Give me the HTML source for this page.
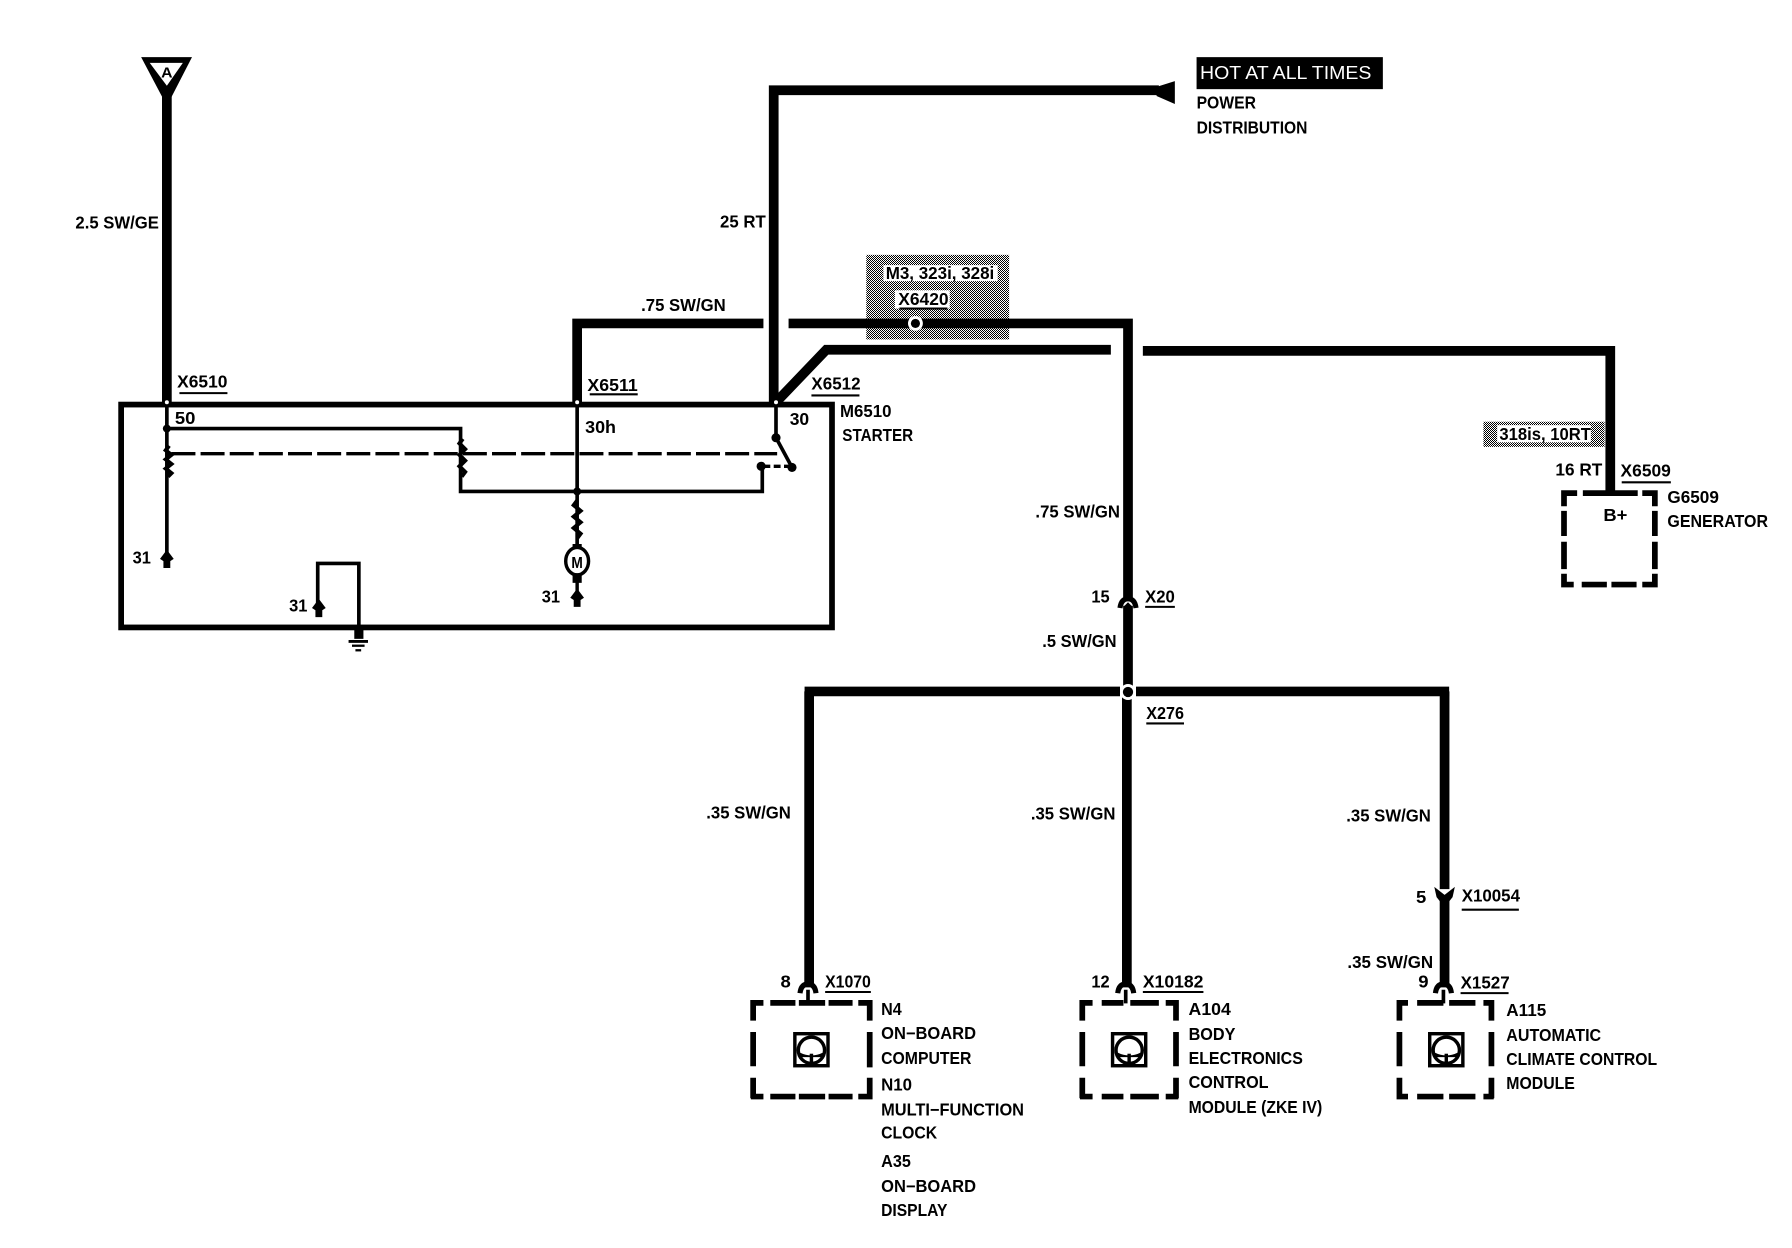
<!DOCTYPE html>
<html><head><meta charset="utf-8"><style>
html,body{margin:0;padding:0;background:#fff}
svg{display:block}
text{font-family:"Liberation Sans",sans-serif;font-weight:bold;font-size:15px;fill:#000}
.n{fill:none;stroke:#000}
.w{fill:none;stroke:#000;stroke-width:8.5}
.t{fill:none;stroke:#000;stroke-width:3.2}
.u{stroke:#000;stroke-width:1.8}
.d{fill:none;stroke:#000;stroke-width:5}
</style></head><body>
<svg width="1792" height="1248" viewBox="0 0 1568 1092" xmlns="http://www.w3.org/2000/svg">
<defs>
<pattern id="g" width="1.75" height="1.75" patternUnits="userSpaceOnUse">
<rect width="1.75" height="1.75" fill="#fff"/><rect width=".875" height=".875" fill="#000"/><rect x=".875" y=".875" width=".875" height=".875" fill="#000"/>
</pattern>
</defs>

<!-- shaded option boxes -->
<rect x="758" y="223" width="125" height="74" fill="url(#g)"/>
<rect x="773" y="232" width="100" height="14" fill="#fff"/>
<rect x="783" y="254" width="48" height="16" fill="#fff"/>
<rect x="1298" y="369" width="106" height="22" fill="url(#g)"/>
<rect x="1310" y="372" width="82" height="15" fill="#fff"/>

<!-- connector A -->
<polygon points="123.500,50 168,50 150,85 142,85" fill="#000"/>
<polygon points="131,55 160,55 146,75" fill="#fff"/>
<text x="141" y="68" style="font-size:13px" textLength="10" lengthAdjust="spacingAndGlyphs">A</text>
<path class="w" d="M146 80V354"/>

<!-- heavy wires -->
<path class="w" d="M677 354V79H1014"/>
<polygon points="1012,76 1028,71 1028,91 1012,84" fill="#000"/>
<path class="w" d="M505 354V283H668"/>
<path class="w" d="M690 283H987V523"/>
<path class="w" d="M679 352L723 306H972"/>
<path class="w" d="M1000 307H1409V430"/>
<circle cx="801" cy="283" r="6.500" fill="#fff"/>
<circle cx="801" cy="283" r="4" fill="#000"/>

<!-- starter box -->
<rect x="106" y="354" width="622" height="195" class="n" stroke-width="5"/>
<g fill="#fff" stroke="#000" stroke-width="1.5">
<circle cx="146" cy="352" r="2.5"/><circle cx="505" cy="352" r="2.5"/><circle cx="679" cy="352" r="2.5"/>
</g>

<!-- internals -->
<path class="t" d="M146 354V490"/>
<path class="t" d="M146 375H403V430H667V408"/>
<path class="t" d="M505 354V480"/>
<path class="t" d="M679 354V383L693 409"/>
<path d="M150 397H680" fill="none" stroke="#000" stroke-width="3" stroke-dasharray="21 4.5"/>
<path d="M668 408H692" fill="none" stroke="#000" stroke-width="3" stroke-dasharray="6 3"/>
<path class="t" d="M278 532V493H314V549"/>
<path class="n" stroke-width="3.5" d="M148 390l-3 4 5 4-5 4 5 4-5 4 5 4-3 3"/>
<path class="n" stroke-width="3.5" d="M405 384l-3 4 5 5-5 5 5 5-5 5 5 5-3 4"/>
<path class="n" stroke-width="3.5" d="M505 438l-3 4 6 5-6 5 6 5-6 5 6 5-3 4"/>
<g fill="#000">
<circle cx="146" cy="375" r="3.5"/><circle cx="505" cy="430" r="3.5"/>
<circle cx="679" cy="383" r="4"/><circle cx="693" cy="409" r="4"/><circle cx="666" cy="408" r="4"/>
<path d="M146 481l6 8-3 2v6h-6v-6l-3-2z"/>
<path d="M505 515l6 8-3 2v6h-6v-6l-3-2z"/>
<path d="M279 524l6 8-3 2v6h-6v-6l-3-2z"/>
<rect x="501" y="476" width="8" height="6"/><rect x="501" y="502" width="8" height="8"/>
<rect x="503.500" y="508" width="3" height="10"/>
<rect x="310" y="550" width="8" height="9"/>
<rect x="305" y="560" width="17" height="2.500"/><rect x="308" y="564" width="11" height="2"/><rect x="311" y="568" width="5" height="2"/>
</g>
<ellipse cx="505" cy="491" rx="10" ry="12" fill="#fff" stroke="#000" stroke-width="3"/>
<text x="500" y="497" style="font-size:14px" textLength="10" lengthAdjust="spacingAndGlyphs">M</text>

<!-- wires lower -->
<path class="w" d="M987 530V605"/>
<path class="w" d="M704 605H980"/>
<path class="w" d="M994 605H1268"/>
<path class="w" d="M708 605V864"/>
<path class="w" d="M986 605V864"/>
<path class="w" d="M1264 605V778"/>
<path class="w" d="M1264 786V864"/>
<circle cx="987" cy="605.500" r="7" fill="#fff"/>
<circle cx="987" cy="605.500" r="4.500" fill="#000"/>
<!-- connector chevrons -->
<g fill="none" stroke="#000" stroke-width="4.500">
<path d="M980 532Q981 524 987 524Q993 524 994 532"/>
<path d="M700 869Q701 861 707 861Q713 861 714 869"/>
<path d="M978 869Q979 861 985 861Q991 861 992 869"/>
<path d="M1256 869Q1257 861 1263 861Q1269 861 1270 869"/>
</g>
<path d="M983 531L987 527L991 531z" fill="#000"/>
<path d="M1255 776L1264 783L1273 776L1271 785L1267 790H1261L1257 785z" fill="#000"/>
<path d="M707 866V878M985 866V878M1263 866V878" class="t"/>

<!-- dashed module boxes -->
<path class="d" d="M657 877.500H668M674 877.500H696M699 877.500H722M725 877.500H746M751 877.500H763.500M659 875V893M659 903V933M659 943V961M761 875V893M761 903V934M761 943V961M657 959.500H668M674 959.500H696M699 959.500H722M725 959.500H746M751 959.500H763.500"/>
<path class="d" d="M945 877.500H956M964 877.500H983M989 877.500H1014M1020 877.500H1031M947 875V893M947 903V933M947 943V961M1029 875V893M1029 903V933M1029 943V961M945 959.500H956M964 959.500H983M989 959.500H1014M1020 959.500H1031"/>
<path class="d" d="M1222 877.500H1232M1240 877.500H1263M1268 877.500H1291M1298 877.500H1307M1224.500 875V893M1224.500 903V933M1224.500 943V961M1305 875V893M1305 903V933M1305 943V961M1222 959.500H1232M1240 959.500H1263M1268 959.500H1291M1298 959.500H1307"/>
<path class="d" d="M1366 431.500H1380M1385 431.500H1433M1437 431.500H1450M1368.500 429V443M1368.500 447V469M1368.500 474V498M1368.500 502V514M1448 429V443M1448 447V469M1448 474V498M1448 502V514M1366 511.500H1377M1384 511.500H1406M1410 511.500H1432M1437 511.500H1450"/>

<!-- icons -->
<g class="n" stroke-width="3">
<rect x="695.500" y="904.500" width="29" height="28"/><circle cx="710" cy="919" r="11.500"/>
<rect x="973.500" y="904.500" width="29" height="28"/><circle cx="988" cy="919" r="11.500"/>
<rect x="1251" y="904.500" width="29" height="28"/><circle cx="1265.500" cy="919" r="11.500"/>
</g>
<g fill="#000">
<path d="M700 921Q710 926 720 921V925H700z"/><rect x="708.500" y="922" width="3" height="10"/>
<path d="M978 921Q988 926 998 921V925H978z"/><rect x="986.500" y="922" width="3" height="10"/>
<path d="M1255.500 921Q1265.500 926 1275.500 921V925H1255.500z"/><rect x="1264" y="922" width="3" height="10"/>
</g>

<!-- hot at all times -->
<rect x="1047" y="50" width="163" height="28" fill="#000"/>
<text x="1050" y="69" style="fill:#fff;font-weight:normal;font-size:16px" textLength="150" lengthAdjust="spacingAndGlyphs">HOT AT ALL TIMES</text>
<text x="1047" y="95" textLength="52" lengthAdjust="spacingAndGlyphs">POWER</text>
<text x="1047" y="117" textLength="97" lengthAdjust="spacingAndGlyphs">DISTRIBUTION</text>

<!-- labels -->
<text x="66" y="200" textLength="73" lengthAdjust="spacingAndGlyphs">2.5 SW/GE</text>
<text x="630" y="199" textLength="40" lengthAdjust="spacingAndGlyphs">25 RT</text>
<text x="561" y="272" textLength="74" lengthAdjust="spacingAndGlyphs">.75 SW/GN</text>
<text x="775" y="244" textLength="95" lengthAdjust="spacingAndGlyphs">M3, 323i, 328i</text>
<text x="786" y="267" textLength="44" lengthAdjust="spacingAndGlyphs">X6420</text>
<path class="u" d="M787 270H829"/>
<text x="155" y="339" textLength="44" lengthAdjust="spacingAndGlyphs">X6510</text>
<path class="u" d="M157 344H199"/>
<text x="514" y="342" textLength="44" lengthAdjust="spacingAndGlyphs">X6511</text>
<path class="u" d="M516 345H558"/>
<text x="710" y="341" textLength="43" lengthAdjust="spacingAndGlyphs">X6512</text>
<path class="u" d="M710 346H752"/>
<text x="735" y="365" textLength="45" lengthAdjust="spacingAndGlyphs">M6510</text>
<text x="737" y="386" textLength="62" lengthAdjust="spacingAndGlyphs">STARTER</text>
<text x="153" y="371" textLength="18" lengthAdjust="spacingAndGlyphs">50</text>
<text x="512" y="379" textLength="27" lengthAdjust="spacingAndGlyphs">30h</text>
<text x="691" y="372" textLength="17" lengthAdjust="spacingAndGlyphs">30</text>
<text x="116" y="493" textLength="16" lengthAdjust="spacingAndGlyphs">31</text>
<text x="253" y="535" textLength="16" lengthAdjust="spacingAndGlyphs">31</text>
<text x="474" y="527" textLength="16" lengthAdjust="spacingAndGlyphs">31</text>

<text x="906" y="453" textLength="74" lengthAdjust="spacingAndGlyphs">.75 SW/GN</text>
<text x="955" y="527" textLength="16" lengthAdjust="spacingAndGlyphs">15</text>
<text x="1002" y="527" textLength="26" lengthAdjust="spacingAndGlyphs">X20</text>
<path class="u" d="M1002 531H1028"/>
<text x="912" y="566" textLength="65" lengthAdjust="spacingAndGlyphs">.5 SW/GN</text>
<text x="1003" y="629" textLength="33" lengthAdjust="spacingAndGlyphs">X276</text>
<path class="u" d="M1003 633H1036"/>

<text x="1312" y="385" textLength="80" lengthAdjust="spacingAndGlyphs">318is, 10RT</text>
<text x="1361" y="416" textLength="41" lengthAdjust="spacingAndGlyphs">16 RT</text>
<text x="1418" y="417" textLength="44" lengthAdjust="spacingAndGlyphs">X6509</text>
<path class="u" d="M1419 422H1462"/>
<text x="1403" y="456" textLength="21" lengthAdjust="spacingAndGlyphs">B+</text>
<text x="1459" y="440" textLength="45" lengthAdjust="spacingAndGlyphs">G6509</text>
<text x="1459" y="461" textLength="88" lengthAdjust="spacingAndGlyphs">GENERATOR</text>

<text x="618" y="716" textLength="74" lengthAdjust="spacingAndGlyphs">.35 SW/GN</text>
<text x="902" y="717" textLength="74" lengthAdjust="spacingAndGlyphs">.35 SW/GN</text>
<text x="1178" y="719" textLength="74" lengthAdjust="spacingAndGlyphs">.35 SW/GN</text>
<text x="1239" y="790" textLength="9" lengthAdjust="spacingAndGlyphs">5</text>
<text x="1279" y="789" textLength="51" lengthAdjust="spacingAndGlyphs">X10054</text>
<path class="u" d="M1279 796H1329"/>
<text x="1179" y="847" textLength="75" lengthAdjust="spacingAndGlyphs">.35 SW/GN</text>

<text x="683" y="864" textLength="9" lengthAdjust="spacingAndGlyphs">8</text>
<text x="722" y="864" textLength="40" lengthAdjust="spacingAndGlyphs">X1070</text>
<path class="u" d="M722 868H762"/>
<text x="955" y="864" textLength="16" lengthAdjust="spacingAndGlyphs">12</text>
<text x="1000" y="864" textLength="53" lengthAdjust="spacingAndGlyphs">X10182</text>
<path class="u" d="M1000 868H1053"/>
<text x="1241" y="864" textLength="9" lengthAdjust="spacingAndGlyphs">9</text>
<text x="1278" y="865" textLength="43" lengthAdjust="spacingAndGlyphs">X1527</text>
<path class="u" d="M1278 869H1320"/>

<text x="771" y="888" textLength="18" lengthAdjust="spacingAndGlyphs">N4</text>
<text x="771" y="909" textLength="83" lengthAdjust="spacingAndGlyphs">ON−BOARD</text>
<text x="771" y="931" textLength="79" lengthAdjust="spacingAndGlyphs">COMPUTER</text>
<text x="771" y="954" textLength="27" lengthAdjust="spacingAndGlyphs">N10</text>
<text x="771" y="976" textLength="125" lengthAdjust="spacingAndGlyphs">MULTI−FUNCTION</text>
<text x="771" y="996" textLength="49" lengthAdjust="spacingAndGlyphs">CLOCK</text>
<text x="771" y="1021" textLength="26" lengthAdjust="spacingAndGlyphs">A35</text>
<text x="771" y="1043" textLength="83" lengthAdjust="spacingAndGlyphs">ON−BOARD</text>
<text x="771" y="1064" textLength="58" lengthAdjust="spacingAndGlyphs">DISPLAY</text>

<text x="1040" y="888" textLength="37" lengthAdjust="spacingAndGlyphs">A104</text>
<text x="1040" y="910" textLength="41" lengthAdjust="spacingAndGlyphs">BODY</text>
<text x="1040" y="931" textLength="100" lengthAdjust="spacingAndGlyphs">ELECTRONICS</text>
<text x="1040" y="952" textLength="70" lengthAdjust="spacingAndGlyphs">CONTROL</text>
<text x="1040" y="974" textLength="117" lengthAdjust="spacingAndGlyphs">MODULE (ZKE IV)</text>

<text x="1318" y="889" textLength="35" lengthAdjust="spacingAndGlyphs">A115</text>
<text x="1318" y="911" textLength="83" lengthAdjust="spacingAndGlyphs">AUTOMATIC</text>
<text x="1318" y="932" textLength="132" lengthAdjust="spacingAndGlyphs">CLIMATE CONTROL</text>
<text x="1318" y="953" textLength="60" lengthAdjust="spacingAndGlyphs">MODULE</text>
</svg>
</body></html>
